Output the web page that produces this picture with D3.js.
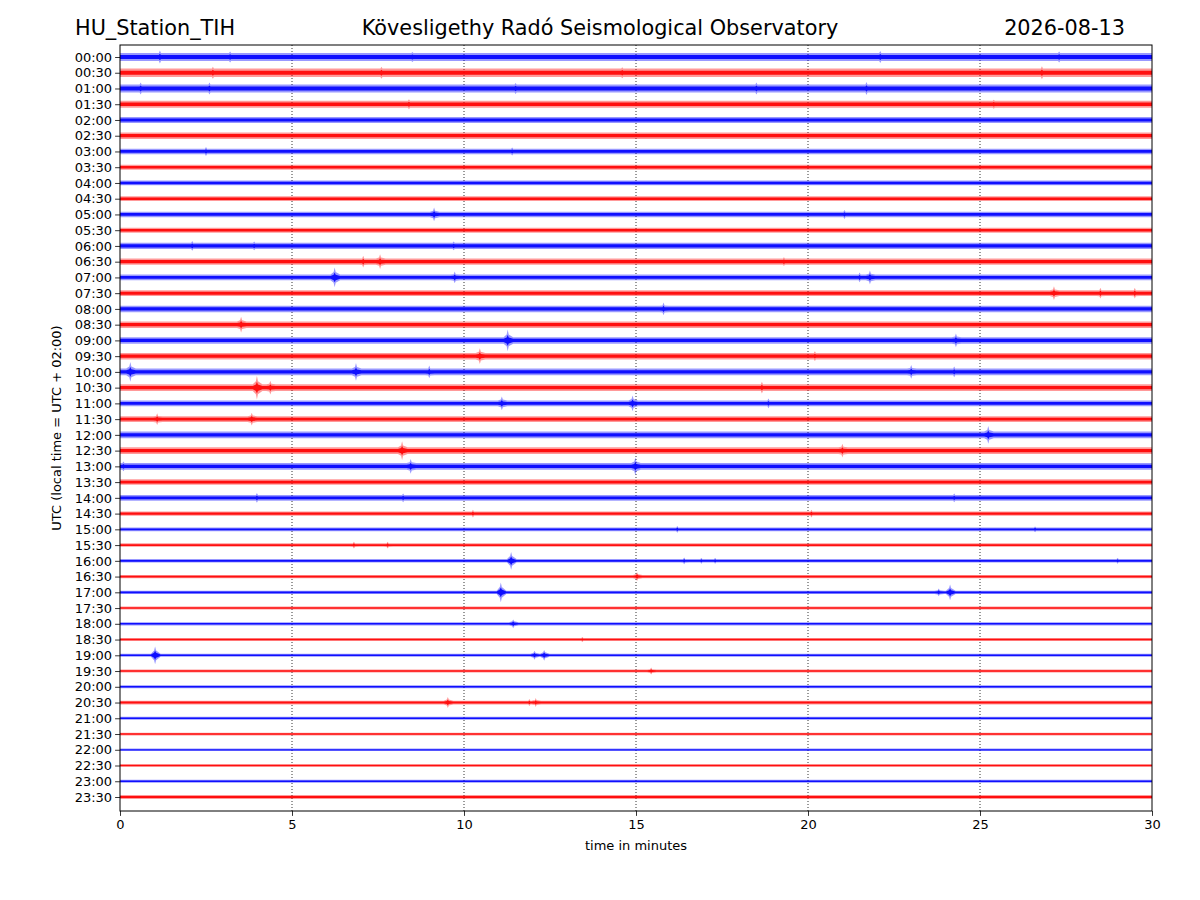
<!DOCTYPE html>
<html>
<head>
<meta charset="utf-8">
<script src="https://cdn.jsdelivr.net/npm/d3@7"></script>
<style>
  html, body { margin: 0; padding: 0; background: #fff; }
  svg { display: block; font-family: "DejaVu Sans", sans-serif; }
</style>
</head>
<body>
<svg id="chart" width="1200" height="900"></svg>
<script>
// ---------------- data ----------------
const stationName = "HU_Station_TIH";
const chartTitle = "Kövesligethy Radó Seismological Observatory";
const chartDate = "2026-08-13";
const yAxisTitle = "UTC (local time = UTC + 02:00)";
const xAxisTitle = "time in minutes";

const traceLabels = [
  "00:00","00:30","01:00","01:30","02:00","02:30","03:00","03:30",
  "04:00","04:30","05:00","05:30","06:00","06:30","07:00","07:30",
  "08:00","08:30","09:00","09:30","10:00","10:30","11:00","11:30",
  "12:00","12:30","13:00","13:30","14:00","14:30","15:00","15:30",
  "16:00","16:30","17:00","17:30","18:00","18:30","19:00","19:30",
  "20:00","20:30","21:00","21:30","22:00","22:30","23:00","23:30"
];
const xTicks = [0, 5, 10, 15, 20, 25, 30];
const traceColors = ["#0000ff", "#ff0000"];

// background noise level (half amplitude, counts) of each trace
const noiseLevel = [
  4.0, 4.3, 4.0, 3.5, 3.1, 3.3, 2.8, 2.5,
  2.4, 2.4, 2.8, 2.6, 3.2, 3.2, 2.9, 3.0,
  3.3, 3.3, 3.3, 3.3, 3.5, 3.4, 3.0, 3.0,
  3.4, 3.5, 3.5, 2.8, 2.9, 2.1, 1.9, 1.8,
  1.8, 1.7, 1.7, 1.5, 1.6, 1.5, 1.5, 1.5,
  1.5, 1.9, 1.6, 1.4, 1.3, 1.3, 1.5, 2.0
];

// events: [trace index, minute, peak half amplitude (counts)]
const eventTrace = [
  0,0,0,0,0, 1,1,1,1, 2,2,2,2,2, 3,3, 6,6,
  10,10, 12,12,12, 13,13,13, 14,14,14,14, 15,15,15, 16, 17,
  18,18, 19,19, 20,20,20,20,20, 21,21,21, 22,22,22, 23,23, 24, 25,25,
  26,26,26, 28,28,28, 29,29, 30,30, 31,31, 32,32,32,32,32, 33,
  34,34,34, 36, 37, 38,38,38, 39, 41,41,41
];
const eventMinute = [
  1.16,3.2,8.5,22.1,27.3, 2.7,7.6,14.6,26.8, 0.6,2.6,11.5,18.5,21.7, 8.4,25.4, 2.5,11.4,
  9.13,21.06, 2.1,3.9,9.7, 7.07,7.56,19.3, 6.24,9.73,21.5,21.8, 27.15,28.5,29.5, 15.8, 3.52,
  11.27,24.3, 10.46,20.2, 0.3,6.86,8.99,23.0,24.25, 3.98,4.37,18.66, 11.1,14.9,18.85, 1.08,3.83, 25.24, 8.2,21.0,
  0.1,8.45,14.98, 3.98,8.23,24.25, 10.26,20.1, 16.2,26.6, 6.8,7.78, 11.37,16.4,16.9,17.3,29.0, 15.03,
  11.07,23.8,24.13, 11.43, 13.44, 1.02,12.05,12.33, 15.44, 9.53,11.9,12.08
];
const eventAmp = [
  6.5,5.5,5,6,5.5, 6,6,5.5,6.5, 6,6,5.5,6,6.5, 5,4.5, 4.5,4,
  7,4.5, 5,4.5,4.5, 6,7.5,4.5, 10,6,5,7, 7,5.5,5.5, 6.5, 8,
  11,7, 8,5, 10,9,6.5,7,5.5, 12,7,6, 7,8,5, 6,6.5, 9, 9.5,7,
  5,7.5,9, 5,4.5,4.5, 4,4, 3.5,3, 3.5,3.5, 9,3.5,3,3,3, 4.5,
  10,4,8, 4.5, 2.5, 9,4.5,5.5, 3.5, 5.5,3.5,4.5
];

// ---------------- drawing ----------------
const W = 1200, H = 900;
const margin = { left: 120, right: 48, top: 45, bottom: 89 };
const svg = d3.select("#chart");

const x = d3.scaleLinear().domain([0, 30]).range([margin.left, W - margin.right]);
const y = d3.scalePoint().domain(traceLabels).range([57, 797]);
const spacing = y.step();
const amp = d3.scaleLinear().domain([0, 16]).range([0, spacing]);

// clip
svg.append("defs").append("clipPath").attr("id", "plotClip")
  .append("rect")
  .attr("x", margin.left).attr("y", margin.top)
  .attr("width", W - margin.left - margin.right)
  .attr("height", H - margin.top - margin.bottom);

// grid
svg.append("g").selectAll("line")
  .data(xTicks.filter(t => t > 0 && t < 30))
  .join("line")
  .attr("x1", d => x(d)).attr("x2", d => x(d))
  .attr("y1", margin.top).attr("y2", H - margin.bottom)
  .attr("stroke", "#000").attr("stroke-width", 0.8)
  .attr("stroke-dasharray", "1,2");

// per-trace envelopes (spindle-shaped around each event)
const events = eventTrace.map((t, i) => ({ trace: t, minute: eventMinute[i], amp: eventAmp[i] }));
const traces = traceLabels.map((lab, i) => {
  const base = noiseLevel[i];
  const pts = [[0, base], [30, base]];
  events.filter(e => e.trace === i).forEach(e => {
    const mid = Math.max(base, e.amp * 0.55);
    pts.push(
      [e.minute - 0.12, base], [e.minute - 0.03, mid], [e.minute, e.amp],
      [e.minute + 0.03, mid], [e.minute + 0.16, base]
    );
  });
  pts.sort((a, b) => a[0] - b[0]);
  return { label: lab, index: i, pts };
});

const area = d3.area().x(d => x(d[0]));

const gTr = svg.append("g").attr("clip-path", "url(#plotClip)");
traces.forEach(tr => {
  const cy = y(tr.label);
  const col = traceColors[tr.index % 2];
  gTr.append("path")
    .datum(tr.pts)
    .attr("d", area.y0(d => cy + amp(d[1])).y1(d => cy - amp(d[1])))
    .attr("fill", col).attr("fill-opacity", 0.4);
  gTr.append("path")
    .datum(tr.pts)
    .attr("d", area.y0(d => cy + amp(d[1]) * 0.5).y1(d => cy - amp(d[1]) * 0.5))
    .attr("fill", col).attr("fill-opacity", 0.9);
});

// frame
svg.append("rect")
  .attr("x", margin.left).attr("y", margin.top)
  .attr("width", W - margin.left - margin.right)
  .attr("height", H - margin.top - margin.bottom)
  .attr("fill", "none").attr("stroke", "#000").attr("stroke-width", 1);

// axes
const xAxis = svg.append("g")
  .attr("transform", `translate(0,${H - margin.bottom})`)
  .call(d3.axisBottom(x).tickValues(xTicks).tickFormat(d3.format("d")).tickSize(4.9).tickPadding(4));
const yAxis = svg.append("g")
  .attr("transform", `translate(${margin.left},0)`)
  .call(d3.axisLeft(y).tickSize(4.9).tickPadding(3));
[xAxis, yAxis].forEach(a => {
  a.select(".domain").remove();
  a.selectAll("text").attr("font-size", 13).attr("fill", "#000").attr("font-family", "DejaVu Sans");
  a.selectAll("line").attr("stroke", "#000").attr("stroke-width", 0.8);
});

// titles
svg.append("text").attr("x", 75).attr("y", 35).attr("font-size", 20.8).text(stationName);
svg.append("text").attr("x", 600).attr("y", 35).attr("font-size", 20.8).attr("text-anchor", "middle").text(chartTitle);
svg.append("text").attr("x", 1125).attr("y", 35).attr("font-size", 20.8).attr("text-anchor", "end").text(chartDate);

svg.append("text")
  .attr("x", (margin.left + W - margin.right) / 2).attr("y", 850)
  .attr("text-anchor", "middle").attr("font-size", 13).text(xAxisTitle);
svg.append("text")
  .attr("transform", `translate(61,${(margin.top + H - margin.bottom) / 2}) rotate(-90)`)
  .attr("text-anchor", "middle").attr("font-size", 13).text(yAxisTitle);
</script>
</body>
</html>
